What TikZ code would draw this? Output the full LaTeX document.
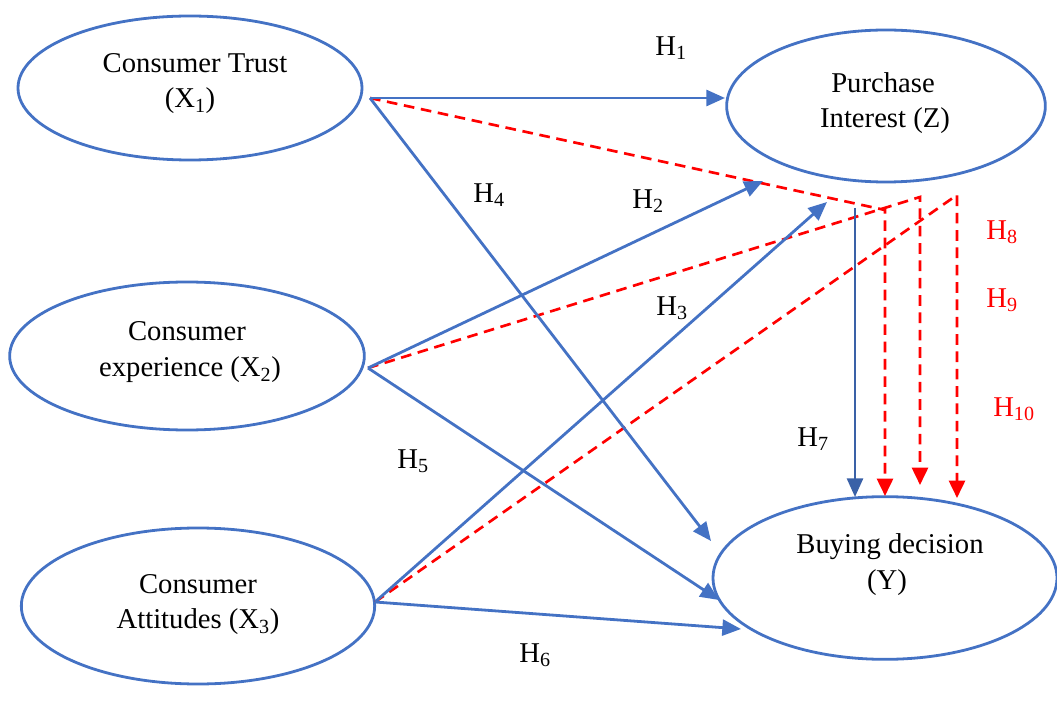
\documentclass[tikz,border=0pt]{standalone}
\usepackage{fontspec}
\setmainfont{Liberation Serif}
\usetikzlibrary{shapes.geometric,arrows.meta}
\definecolor{lnblue}{HTML}{4472C4}
\definecolor{lnred}{HTML}{FF0000}
\begin{document}
\begin{tikzpicture}[x=0.75pt,y=-0.75pt,
  var/.style={draw=lnblue,line width=2.1pt,ellipse,inner sep=0pt},
  txt/.style={font=\fontsize{21.5}{24}\selectfont,inner sep=0pt},
  htxt/.style={font=\fontsize{21.5}{24}\selectfont,inner sep=0pt},
  rtxt/.style={htxt,text=lnred},
  direct/.style={draw=lnblue,line width=2.1pt,-{Triangle[length=14pt,width=12pt]}},
  mediated/.style={draw=lnred,line width=2pt,dash pattern=on 8pt off 5pt},
  medarrow/.style={mediated,-{Triangle[length=13pt,width=12pt]}}]
\useasboundingbox (0,0) rectangle (1057,702);

% constructs
\node[var,minimum width=258pt,minimum height=108pt] (x1) at (190,88) {};
\node[var,minimum width=266pt,minimum height=111pt] (x2) at (187,356) {};
\node[var,minimum width=265pt,minimum height=117pt] (x3) at (198,606) {};
\node[var,minimum width=239pt,minimum height=114pt] (z) at (886,106) {};
\node[var,minimum width=258pt,minimum height=122pt] (y) at (885,578) {};

\node[txt] (x1a) at (195,63) {Consumer Trust};
\node[txt] (x1b) at (190,101) {(X\textsubscript{1})};
\node[txt] (x2a) at (187,331) {Consumer};
\node[txt] (x2b) at (190,370) {experience (X\textsubscript{2})};
\node[txt] (x3a) at (198,584) {Consumer};
\node[txt] (x3b) at (198,622) {Attitudes (X\textsubscript{3})};
\node[txt] (za) at (883,83) {Purchase};
\node[txt] (zb) at (885,121) {Interest (Z)};
\node[txt] (ya) at (890,547) {Buying decision};
\node[txt] (yb) at (887,583) {(Y)};

% connector end points
\coordinate (p1) at (370,98);
\coordinate (p2) at (368,368);
\coordinate (p3) at (375,602);
\coordinate (zin1) at (725,98);
\coordinate (zin2) at (763,181);
\coordinate (zin3) at (827,202);
\coordinate (yin1) at (711,541);
\coordinate (yin2) at (719,600);
\coordinate (yin3) at (741,629);
\coordinate (zout) at (855,208);
\coordinate (yin7) at (855,497);
\coordinate (k1) at (885,210);
\coordinate (k2) at (920,197);
\coordinate (k3) at (957,195);
\coordinate (m1) at (885,496);
\coordinate (m2) at (920,485);
\coordinate (m3) at (957,498);

% mediated paths via Z
\draw[medarrow] (p1) -- (k1) -- (m1);
\draw[medarrow] (p2) -- (k2) -- (m2);
\draw[medarrow] (p3) -- (k3) -- (m3);

% direct paths
\draw[direct] (p1) -- (zin1);
\draw[direct] (p2) -- (zin2);
\draw[direct] (p3) -- (zin3);
\draw[direct] (p1) -- (yin1);
\draw[direct] (p2) -- (yin2);
\draw[direct] (p3) -- (yin3);
\draw[direct,draw=lnblue!85!black] (zout) -- (yin7);

% hypothesis labels
\node[htxt] (h1) at (671,48) {H\textsubscript{1}};
\node[htxt] (h2) at (648,201) {H\textsubscript{2}};
\node[htxt] (h3) at (672,308) {H\textsubscript{3}};
\node[htxt] (h4) at (489,195) {H\textsubscript{4}};
\node[htxt] (h5) at (413,461) {H\textsubscript{5}};
\node[htxt] (h6) at (535,655) {H\textsubscript{6}};
\node[htxt] (h7) at (813,439) {H\textsubscript{7}};
\node[rtxt] (h8) at (1002,232) {H\textsubscript{8}};
\node[rtxt] (h9) at (1002,300) {H\textsubscript{9}};
\node[rtxt] (h10) at (1014,409) {H\textsubscript{10}};
\end{tikzpicture}
\end{document}
